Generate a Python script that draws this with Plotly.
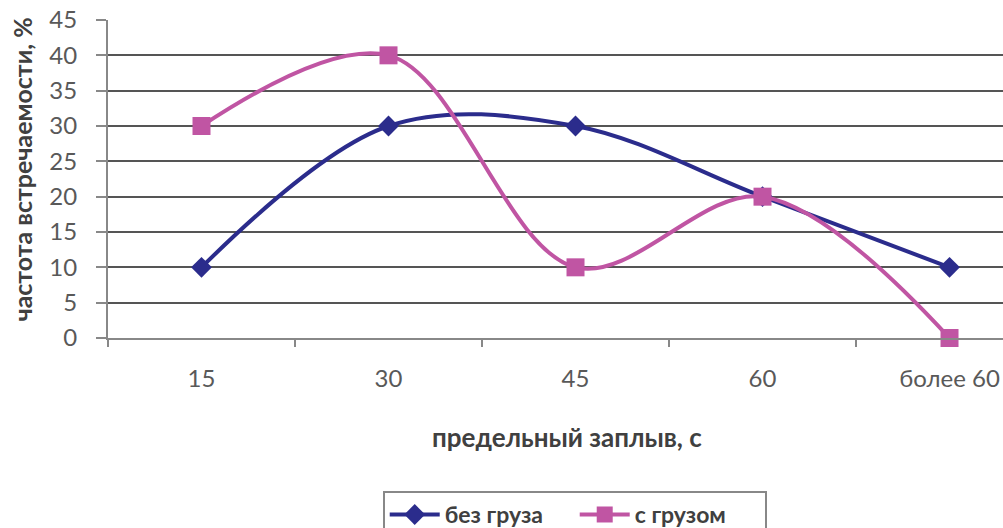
import plotly.graph_objects as go

# Categories (limit swim duration) and frequency of occurrence, %
categories = ["15", "30", "45", "60", "более 60"]
without_load = [10, 30, 30, 20, 10]
with_load = [30, 40, 10, 20, 0]
y_ticks = [0, 5, 10, 15, 20, 25, 30, 35, 40, 45]

FONT = "Lato, 'Open Sans', sans-serif"
TEXT_COLOR = "#595959"
TITLE_COLOR = "#404040"

fig = go.Figure()
fig.add_trace(go.Scatter(
    x=categories, y=without_load, name="без груза",
    mode="lines+markers", cliponaxis=False,
    line=dict(color="#2B2C8C", width=4, shape="spline", smoothing=1.0),
    marker=dict(symbol="diamond", size=16, color="#2B2C8C"),
))
fig.add_trace(go.Scatter(
    x=categories, y=with_load, name="с грузом",
    mode="lines+markers", cliponaxis=False,
    line=dict(color="#C055A3", width=4, shape="spline", smoothing=1.0),
    marker=dict(symbol="square", size=18, color="#C055A3"),
))

fig.update_layout(
    width=1003, height=528,
    margin=dict(l=108, r=0, t=20, b=190, autoexpand=False),
    paper_bgcolor="white", plot_bgcolor="white",
    font=dict(family=FONT, size=23, color=TEXT_COLOR),
    showlegend=True,
    legend=dict(
        orientation="h",
        xref="container", yref="container",
        x=0.573, y=0.070, xanchor="center", yanchor="top",
        bordercolor="#888888", borderwidth=2,
        font=dict(family=FONT, size=23, color=TITLE_COLOR, weight="bold"),
        entrywidth=125, entrywidthmode="pixels",
        itemwidth=50,
    ),
)

fig.update_xaxes(
    type="category",
    range=[-0.5, 4.286],
    tickson="boundaries",
    ticks="outside", ticklen=7, tickwidth=2, tickcolor="#888888",
    showline=True, linecolor="#888888", linewidth=2,
    showgrid=False, zeroline=False,
    ticklabelstandoff=18,
    tickfont=dict(size=24),
)
fig.update_yaxes(
    range=[0, 45],
    tickmode="array", tickvals=y_ticks,
    ticks="outside", ticklen=10, tickwidth=2, tickcolor="#888888",
    showline=True, linecolor="#888888", linewidth=2,
    showgrid=True, gridcolor="#555555", gridwidth=2,
    zeroline=False,
    ticklabelstandoff=14,
    tickfont=dict(size=24),
)

# Axis titles placed in paper coordinates
fig.add_annotation(
    text="предельный заплыв, с", xref="paper", yref="paper",
    x=0.513, y=-0.311, xanchor="center", yanchor="middle", showarrow=False,
    font=dict(family=FONT, size=26, color=TITLE_COLOR, weight="bold"),
)
fig.add_annotation(
    text="частота встречаемости, %", xref="paper", yref="paper",
    x=-0.096, y=0.53, xanchor="center", yanchor="middle", showarrow=False,
    textangle=-90,
    font=dict(family=FONT, size=25, color=TITLE_COLOR, weight="bold"),
)

fig.write_html("out.html")
